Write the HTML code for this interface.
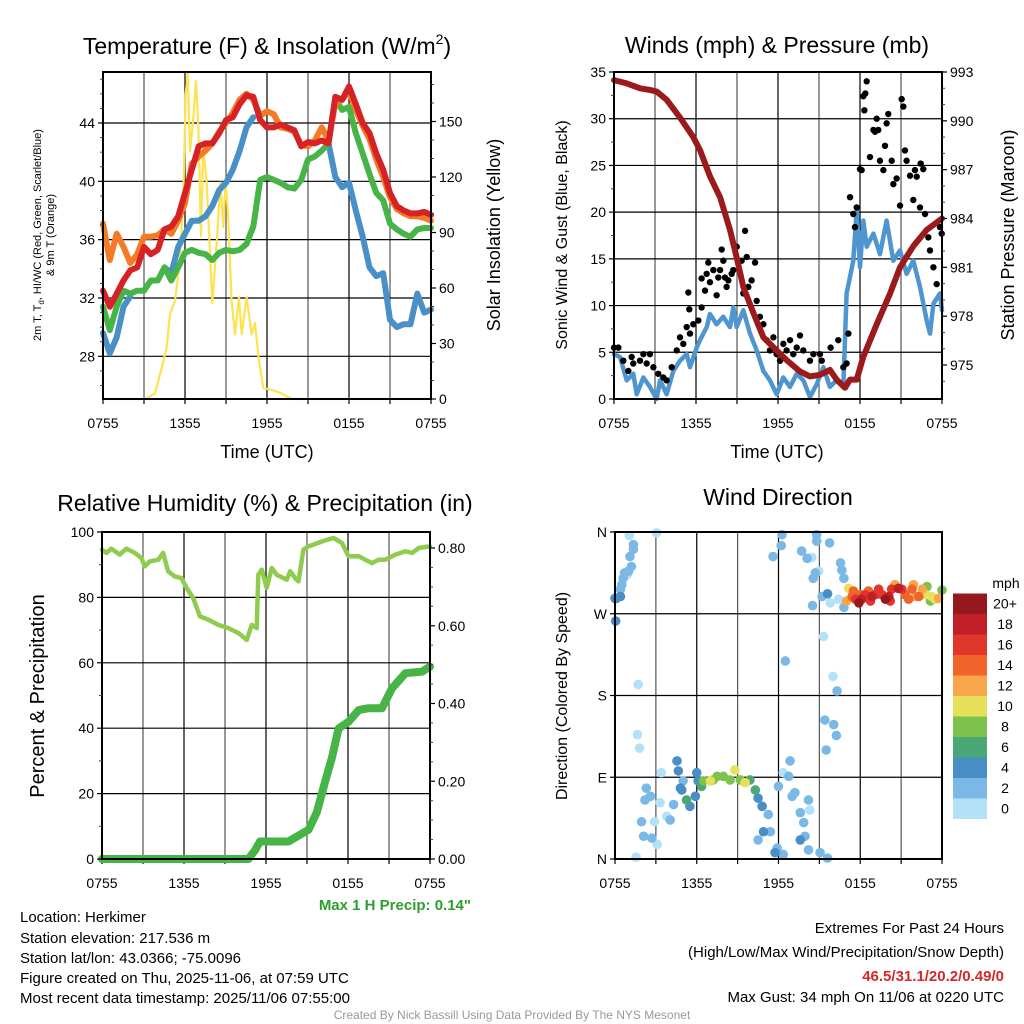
<!DOCTYPE html>
<html><head><meta charset="utf-8">
<style>
html,body{margin:0;padding:0;background:#fff;}
svg{display:block;font-family:"Liberation Sans",Arial,sans-serif;}
</style></head>
<body>
<svg id="chart" width="1024" height="1024" viewBox="0 0 1024 1024" xmlns="http://www.w3.org/2000/svg">
<rect width="1024" height="1024" fill="#fff"/>
<g id="layer"></g>
<!-- titles -->
<text x="267" y="54" font-size="23" text-anchor="middle">Temperature (F) &amp; Insolation (W/m<tspan font-size="14" dy="-10">2</tspan><tspan dy="10">)</tspan></text>
<text x="777" y="53" font-size="23" text-anchor="middle">Winds (mph) &amp; Pressure (mb)</text>
<text x="265" y="511" font-size="23" text-anchor="middle">Relative Humidity (%) &amp; Precipitation (in)</text>
<text x="778" y="505" font-size="23" text-anchor="middle">Wind Direction</text>
<!-- axis titles -->
<text x="267" y="458" font-size="18" text-anchor="middle">Time (UTC)</text>
<text x="777" y="458" font-size="18" text-anchor="middle">Time (UTC)</text>
<text transform="translate(41,235) rotate(-90)" font-size="11" text-anchor="middle">2m T, T<tspan font-size="8" dy="3">d</tspan><tspan dy="-3">, HI/WC (Red, Green, Scarlet/Blue)</tspan></text>
<text transform="translate(54,235) rotate(-90)" font-size="11" text-anchor="middle">&amp; 9m T (Orange)</text>
<text transform="translate(500,235) rotate(-90)" font-size="18" text-anchor="middle">Solar Insolation (Yellow)</text>
<text transform="translate(567,235) rotate(-90)" font-size="16" text-anchor="middle">Sonic Wind &amp; Gust (Blue, Black)</text>
<text transform="translate(1014,235) rotate(-90)" font-size="18" text-anchor="middle">Station Pressure (Maroon)</text>
<text transform="translate(44,696) rotate(-90)" font-size="20" text-anchor="middle">Percent &amp; Precipitation</text>
<text transform="translate(567,696) rotate(-90)" font-size="16" text-anchor="middle">Direction (Colored By Speed)</text>
<!-- bottom text -->
<text x="471" y="910" font-size="15" font-weight="bold" fill="#2ca02c" text-anchor="end">Max 1 H Precip: 0.14"</text>
<g font-size="15">
<text x="20" y="922">Location: Herkimer</text>
<text x="20" y="943">Station elevation: 217.536 m</text>
<text x="20" y="963">Station lat/lon: 43.0366; -75.0096</text>
<text x="20" y="983">Figure created on Thu, 2025-11-06, at 07:59 UTC</text>
<text x="20" y="1003">Most recent data timestamp: 2025/11/06 07:55:00</text>
</g>
<g font-size="15" text-anchor="end">
<text x="1004" y="933">Extremes For Past 24 Hours</text>
<text x="1004" y="957">(High/Low/Max Wind/Precipitation/Snow Depth)</text>
<text x="1004" y="981" font-weight="bold" fill="#d62728">46.5/31.1/20.2/0.49/0</text>
<text x="1004" y="1002">Max Gust: 34 mph On 11/06 at 0220 UTC</text>
</g>
<text x="512" y="1019" font-size="12" fill="#999" text-anchor="middle">Created By Nick Bassill Using Data Provided By The NYS Mesonet</text>
</svg>
<script>
// ---------- data ----------
const timeLabels = ["0755","1355","1955","0155","0755"];
const halfHours = Array.from({length:49},(_,i)=>i*0.5);
const redTemp = [32.5,31.4,32.3,33.2,33.9,34.1,35.5,35.0,35.3,36.7,36.9,37.6,39.2,40.8,42.4,42.6,42.6,43.3,44.2,44.4,45.3,45.9,45.8,44.2,43.7,43.7,43.9,43.7,43.5,42.4,42.7,42.6,42.8,42.6,45.8,45.6,46.5,45.3,44.0,43.3,41.9,40.8,39.2,38.3,38.0,37.8,37.8,37.9,37.7];
const orangeTemp = [37.1,34.6,36.4,35.5,34.4,35.0,36.2,36.2,36.3,36.7,36.4,37.3,38.5,41.2,41.7,42.1,42.6,43.4,44.0,44.7,45.6,46.0,45.6,44.5,44.8,44.6,43.7,43.6,43.4,42.5,42.4,42.8,43.7,42.8,45.3,45.6,46.2,44.9,43.8,42.9,41.5,40.3,38.9,38.1,37.8,37.6,37.6,37.5,37.3];
const greenTemp = [31.4,29.8,31.4,32.5,32.3,32.5,32.5,33.2,33.2,34.1,33.2,34.1,35.1,35.3,35.1,35.0,34.6,35.1,35.3,35.2,35.3,35.7,36.9,40.1,40.3,40.1,39.9,39.6,39.5,40.1,41.5,41.7,42.1,42.6,45.6,44.9,45.1,43.3,41.9,40.5,39.2,38.7,37.1,36.7,36.4,36.2,36.7,36.8,36.8];
const blueTemp = [29.6,28.2,29.3,31.4,32.1,null,null,null,null,34.1,33.7,35.5,36.4,37.3,37.3,37.6,38.3,39.4,39.9,40.8,42.1,43.7,44.4,null,null,null,null,null,null,null,null,null,null,42.6,40.3,39.6,39.9,38.0,36.2,34.1,33.5,33.7,30.5,30.0,30.2,30.2,32.3,31.0,31.2];
const solarHours = [0,3.07,3.8,4.3,4.66,4.9,5.27,5.63,5.88,6.05,6.2,6.37,6.61,6.8,6.98,7.17,7.34,7.59,8.0,8.32,8.59,8.8,8.98,9.17,9.41,9.66,9.95,10.15,10.51,10.88,11.12,11.41,11.73,12.34,13.07,13.8,24];
const solarWm2 = [0,0,3,17,28,46,53,75,111,165,176,134,152,172,147,88,136,117,52,84,117,93,118,97,53,35,55,35,55,35,41,21,6,5,3,0,0];
const windHours = [0,0.44,0.93,1.41,1.66,2.15,2.63,3.12,3.37,3.85,4.34,4.83,5.32,5.56,6.05,6.29,6.78,7.02,7.51,8.0,8.49,8.73,8.98,9.46,9.95,10.44,10.93,11.41,11.9,12.39,12.88,13.37,13.85,14.34,14.83,15.32,15.8,16.29,16.78,17.02,17.51,17.76,18.0,18.24,18.49,18.98,19.46,19.95,20.44,20.93,21.41,21.9,22.39,22.88,23.12,23.37,23.85,24];
const windMph = [4.8,4.5,2.0,2.7,0.5,2.3,1.3,0,2.0,0.5,3.0,4.1,4.8,3.4,5.5,6.3,7.7,9.1,8.0,8.8,7.7,9.8,7.7,9.5,7.0,5.2,3.0,2.0,0.5,2.3,1.3,2.7,2.0,0.2,1.6,3.4,1.3,2.0,1.3,11.3,14.8,20.2,14.1,19.1,16.3,17.7,15.5,19.1,14.8,15.9,13.4,14.8,12.0,8.4,7.0,10.2,11.3,9.5];
const gustHours = [0,0.32,0.68,1.05,1.29,1.41,1.9,2.15,2.39,2.63,2.88,3.24,3.61,3.85,4.22,4.59,4.83,5.07,5.32,5.56,5.8,6.17,5.44,5.51,6.41,6.41,6.66,6.78,6.9,7.02,7.27,7.51,7.63,7.76,7.88,8.0,8.12,8.24,8.37,8.61,8.73,8.98,9.34,9.46,9.59,9.71,9.83,10.07,10.32,10.44,10.68,10.93,11.17,11.41,11.66,11.9,12.15,12.39,12.63,12.88,13.12,13.37,13.61,13.85,14.34,14.59,15.07,15.2,15.85,16.41,16.78,17.02,17.15,17.27,17.51,17.63,17.76,18.0,18.12,18.32,18.39,18.24,18.49,18.73,18.98,19.1,19.22,19.34,19.46,19.71,19.83,19.95,20.07,20.32,20.44,20.68,20.93,21.05,21.17,21.29,21.41,21.66,21.9,22.02,22.15,22.39,22.44,22.63,22.76,23.0,23.12,23.37,23.61,23.85,23.98];
const gustMph = [5.5,5.5,4.1,3.0,4.5,3.8,4.1,4.8,3.8,4.8,3.4,2.7,2.3,2.0,3.4,5.2,6.6,5.9,7.7,7.0,8.0,8.4,11.4,9.6,9.8,12.9,11.6,13.4,14.6,12.5,13.8,11.1,13.0,13.8,16.0,14.8,13.0,12.0,12.7,13.4,13.8,16.3,14.8,11.3,18.0,15.2,12.0,12.7,14.6,10.5,8.8,8.0,6.3,5.2,6.6,4.8,4.1,5.9,5.2,6.3,4.8,5.5,6.8,5.2,4.1,4.8,4.8,4.1,5.5,6.3,3.4,3.8,7.0,21.6,19.8,18.4,20.5,24.6,24.5,30.9,32.7,32.4,34.0,25.9,28.8,28.6,30.0,28.8,25.5,24.5,27.1,29.5,30.5,25.5,23.0,23.6,20.7,32.1,31.3,26.6,25.5,23.9,21.3,24.5,23.8,20.5,25.2,24.6,19.8,17.3,15.9,14.1,12.3,18.4,17.7,14.8,20.9];
const pressHours = [0,0.93,1.9,2.63,3.12,3.85,4.83,5.8,6.29,7.02,7.76,8.49,8.98,9.46,10.2,10.93,11.9,12.63,13.61,14.34,15.07,15.8,16.29,16.9,17.27,17.76,18.24,19.22,20.2,20.93,21.9,22.88,24];
const pressMb = [992.5,992.3,992.0,991.9,991.8,991.3,990.2,989.0,988.2,986.6,985.3,983.3,981.6,979.8,978.2,976.7,975.9,975.3,974.6,974.3,974.4,974.7,974.1,973.6,974.1,974.1,975.5,977.5,979.4,981.0,982.3,983.3,984.0];
const rhHours = [0,0.32,0.68,1.3,1.78,2.4,2.89,3.13,3.5,4.11,4.47,4.84,5.33,5.82,6.19,6.67,7.16,7.78,8.51,9.24,9.98,10.59,10.95,11.32,11.44,11.69,12.05,12.42,12.79,13.52,13.77,14.13,14.38,14.74,15.11,16.09,16.94,17.56,18.04,18.78,19.27,19.76,20.24,20.73,21.47,22.2,22.69,23.18,23.99];
const rhPct = [94.6,93.6,94.9,93.1,94.9,93.6,92.0,89.5,91.0,91.5,93.6,88.0,86.4,85.9,82.9,79.8,74.2,73.2,71.6,70.6,69.1,67.0,71.6,70.6,86.9,88.5,82.9,89.0,86.9,85.4,88.0,85.9,84.9,94.6,95.6,97.1,98.2,96.6,92.6,92.6,91.5,90.5,91.5,91.5,93.1,94.1,93.6,95.1,95.6];
const precipHours = [0,10.71,11.2,11.56,13.64,15.11,15.72,16.33,16.82,17.31,18.04,18.78,19.51,20.49,21.22,22.2,23.42,24];
const precipIn = [0,0,0.023,0.045,0.045,0.075,0.12,0.2,0.26,0.336,0.353,0.383,0.388,0.388,0.439,0.478,0.482,0.495];
const dirHours = [0,0.1,0.4,0.4,0.5,0.6,0.7,0.9,1.0,1.2,1.1,1.35,1.35,1.05,0.05,3.05,1.7,1.65,1.8,1.55,2.3,2.6,2.2,1.95,2.1,2.7,3.1,2.9,3.4,3.3,3.8,4.05,4.3,4.55,4.65,4.8,5.0,4.9,5.25,5.5,5.9,6.0,6.1,6.35,6.5,7.0,7.2,7.5,7.95,8.45,8.8,9.2,9.55,9.9,10.3,10.5,10.8,10.9,11.25,11.4,10.5,11.75,11.9,12.0,12.35,12.35,12.75,12.85,13.0,13.2,13.6,13.85,13.95,13.6,14.2,14.3,15.05,15.6,14.2,11.6,12.2,12.25,13.7,14.1,14.45,14.55,14.7,14.95,14.8,14.8,15.75,12.5,15.3,16.0,16.3,15.4,16.05,16.25,15.5,16.55,16.65,16.8,14.5,15.2,15.6,15.8,16.4,16.8,17.0,17.15,17.4,17.65,17.9,18.1,18.35,18.6,18.85,19.1,19.35,19.6,19.85,20.1,20.3,20.55,20.8,21.05,21.3,21.55,21.8,22.05,22.3,22.55,22.8,22.9,23.15,23.25,23.5,23.75,24.0,17.5,18.0,18.75,20.2,21.9];
const dirDeg = [287,287,289,297,302,309,315,313,317,322,333,341,346,356,262,359,192,137,122,2,78,69,65,41,25,23,16,41,95,62,47,43,60,108,97,78,86,76,65,58,69,95,86,80,86,86,87,91,91,87,98,87,84,87,76,67,58,30,49,30,21,7,12,80,5,95,91,108,69,73,51,40,25,21,10,54,7,1,65,333,345,357,339,331,332,309,315,317,357,350,348,218,245,201,185,153,148,136,120,326,318,309,279,289,292,282,286,277,284,298,289,286,282,286,291,295,289,291,297,291,286,289,297,302,298,297,291,286,297,289,289,297,291,300,284,289,286,287,296,295,291,284,284,302];
const dirSpeed = [4,4,4,2,2,2,2,0,2,2,2,2,2,0,4,0,0,0,0,0,2,2,2,2,2,2,0,0,0,0,0,2,2,4,4,4,2,4,6,4,4,4,4,6,8,10,8,8,8,8,10,8,10,6,6,4,4,4,2,2,2,4,2,2,2,0,2,2,2,2,2,2,2,4,2,0,2,2,2,2,2,2,2,2,0,2,2,0,2,2,2,2,0,0,2,2,2,2,2,2,2,2,2,2,4,0,0,2,12,10,14,16,20,18,16,14,18,16,16,16,20,18,16,12,18,16,14,14,14,12,14,12,10,8,8,10,10,12,8,14,14,16,16,12];
const speedBins = [0,2,4,6,8,10,12,14,16,18,20];
const speedBinLabels = ["0","2","4","6","8","10","12","14","16","18","20+"];
const speedColors = ["#b3e1f7","#7ab8e5","#4a8ec6","#4aa877","#7cc24d","#e6e05a","#f7a74a","#f06429","#e0362b","#c01f27","#95181c"];

// ---------- helpers ----------
const NS="http://www.w3.org/2000/svg";
const layer=document.getElementById('layer');
function mk(tag,attrs,parent){const e=document.createElementNS(NS,tag);for(const k in attrs)e.setAttribute(k,attrs[k]);(parent||layer).appendChild(e);return e;}
function lin(d0,d1,r0,r1){return v=>r0+(v-d0)*(r1-r0)/(d1-d0);}
function pathFrom(xs,ys,xf,yf){let d="",pen=false;for(let i=0;i<xs.length;i++){if(ys[i]==null){pen=false;continue;}d+=(pen?"L":"M")+xf(xs[i]).toFixed(1)+","+yf(ys[i]).toFixed(1);pen=true;}return d;}

function panel(name,x0,x1,y0,y1,hGrid){
  const g=mk('g',{});
  
  
  const xs=lin(0,24,x0,x1);
  for(let h=3;h<24;h+=3){const l=mk('line',{x1:xs(h),x2:xs(h),y1:y0,y2:y1,stroke:(h%6==0?'#000':'#555'),'stroke-width':1.2},g);
    
    }
  hGrid.forEach(y=>{const l=mk('line',{x1:x0,x2:x1,y1:y,y2:y,stroke:'#000','stroke-width':1.2},g);
    
    });
  for(let h=0;h<=24;h+=3){const x=xs(h);
    const tk=mk('line',{x1:x,x2:x,y1:y1,y2:y1+5,stroke:'#000','stroke-width':1.2},g);
    
    }
  timeLabels.forEach((t,i)=>{const x=xs(i*6);
    const tx=mk('text',{x:x,y:y1+29,'font-size':14,'text-anchor':'middle'},g);tx.textContent=t;
    
    });
  return {g,xs};
}
function frame(name,x0,x1,y0,y1){const r=mk('rect',{x:x0,y:y0,width:x1-x0,height:y1-y0,fill:'none',stroke:'#000','stroke-width':2});
  
  }
function yTicks(name,ticks,labels,yf,x,side,minor){
  ticks.forEach((v,i)=>{const y=yf(v);
    const tk=mk('line',{x1:x,x2:x+(side<0?-5:5),y1:y,y2:y,stroke:'#000','stroke-width':1.2});
    
    
    const t=mk('text',{x:x+(side<0?-8:8),y:y+5,'font-size':14,'text-anchor':side<0?'end':'start'});
    t.textContent=labels[i];
    
    });
  (minor||[]).forEach(v=>{const y=yf(v);const tk=mk('line',{x1:x,x2:x+(side<0?-3:3),y1:y,y2:y,stroke:'#444','stroke-width':1});
    
    });
}
function line(name,xs,ys,xf,yf,color,w){const p=mk('path',{d:pathFrom(xs,ys,xf,yf),fill:'none',stroke:color,'stroke-width':w,'stroke-linejoin':'round','stroke-linecap':'round'});
  
  return p;}
function range(a,b,s){const r=[];for(let v=a;v<=b+1e-9;v+=s)r.push(+v.toFixed(3));return r;}

// ---------- panel 1: temperature ----------
{const X0=103,X1=431,Y0=72,Y1=399;
 const yT=lin(44,28,123,356.3), yS=lin(0,150,399,121.5);
 const tTicks=[28,32,36,40,44];
 const p=panel('temp',X0,X1,Y0,Y1,tTicks.map(yT));
 line('solar-insolation-line',solarHours,solarWm2,p.xs,yS,'#fde252',2.2);
 line('wetbulb-blue-line',halfHours,blueTemp,p.xs,yT,'#4a90c8',6);
 line('dewpoint-green-line',halfHours,greenTemp,p.xs,yT,'#46b446',6);
 line('temp-9m-orange-line',halfHours,orangeTemp,p.xs,yT,'#f47a26',6);
 line('temp-2m-red-line',halfHours,redTemp,p.xs,yT,'#d62226',6);
 frame('temp',X0,X1,Y0,Y1);
 yTicks('temp-left-axis',tTicks,tTicks.map(String),yT,X0,-1,range(26,47,1).filter(v=>v%4));
 const sT=[0,30,60,90,120,150];
 yTicks('solar-right-axis',sT,sT.map(String),yS,X1,1,range(10,170,10).filter(v=>v%30));
}
// ---------- panel 2: winds ----------
{const X0=614,X1=942,Y0=72,Y1=399;
 const yW=lin(0,35,399,72), yP=lin(975,993,365,72);
 const wT=[0,5,10,15,20,25,30,35];
 const p=panel('wind',X0,X1,Y0,Y1,[5,10,15,20,25,30].map(yW));
 line('sonic-wind-line',windHours,windMph,p.xs,yW,'#4f96d0',4.5);
 gustHours.forEach((h,i)=>{const c=mk('circle',{cx:p.xs(h),cy:yW(gustMph[i]),r:3.2,fill:'#000'});
   
   });
 line('station-pressure-line',pressHours,pressMb,p.xs,yP,'#9b1a1c',6);
 frame('wind',X0,X1,Y0,Y1);
 yTicks('wind-left-axis',wT,wT.map(String),yW,X0,-1,range(2.5,32.5,5));
 const pT=[975,978,981,984,987,990,993];
 yTicks('pressure-right-axis',pT,pT.map(String),yP,X1,1,range(974,993,1).filter(v=>(v-975)%3));
}
// ---------- panel 3: humidity ----------
{const X0=102,X1=430,Y0=532,Y1=859;
 const yR=lin(0,100,859,532), yPr=lin(0,0.8,859,548);
 const rT=[0,20,40,60,80,100];
 const p=panel('humidity',X0,X1,Y0,Y1,[20,40,60,80].map(yR));
 line('relative-humidity-line',rhHours,rhPct,p.xs,yR,'#8fcb4e',4.5);
 line('precipitation-line',precipHours,precipIn,p.xs,yPr,'#46b446',8);
 frame('humidity',X0,X1,Y0,Y1);
 yTicks('humidity-left-axis',rT,rT.map(String),yR,X0,-1,range(10,90,20));
 const prT=[0,0.2,0.4,0.6,0.8];
 yTicks('precip-right-axis',prT,prT.map(v=>v.toFixed(2)),yPr,X1,1,range(0.05,0.8,0.05).filter(v=>Math.round(v*100)%20));
}
// ---------- panel 4: direction ----------
{const X0=615,X1=942,Y0=532,Y1=859;
 const yD=lin(0,360,859,532);
 const p=panel('direction',X0,X1,Y0,Y1,[90,180,270].map(yD));
 const order=dirSpeed.map((s,i)=>i).sort((a,b)=>dirSpeed[a]-dirSpeed[b]);
 order.forEach(i=>{let b=0;speedBins.forEach((v,k)=>{if(dirSpeed[i]>=v)b=k;});
   const c=mk('circle',{cx:p.xs(dirHours[i]),cy:yD(dirDeg[i]),r:4.8,fill:speedColors[b]});
   
   });
 frame('direction',X0,X1,Y0,Y1);
 const dT=[0,90,180,270,360], dL=["N","E","S","W","N"];
 yTicks('direction-left-axis',dT,dL,yD,X0,-1,[]);
 const t=mk('text',{x:1006,y:588,'font-size':14,'text-anchor':'middle'});t.textContent='mph';
 
 
 speedColors.forEach((c,k)=>{const y=798.5-k*20.5;
   const r=mk('rect',{x:953,y:y,width:34,height:20.5,fill:c});
   
   
   const l=mk('text',{x:1005,y:y+15,'font-size':14,'text-anchor':'middle'});l.textContent=speedBinLabels[k];
   
   });
}
</script>
</body></html>
